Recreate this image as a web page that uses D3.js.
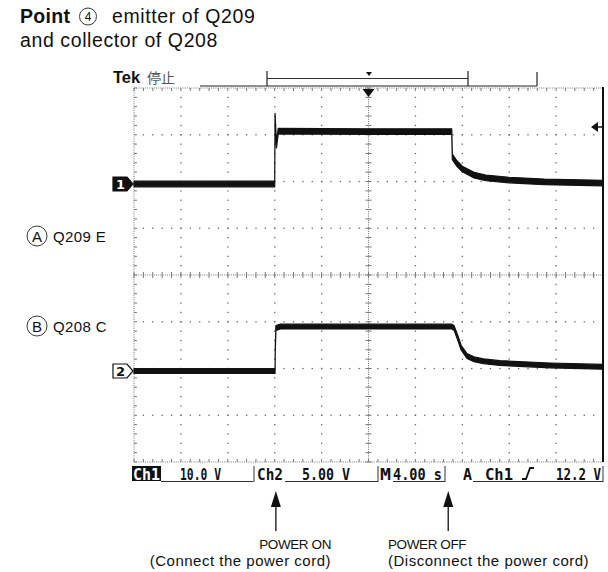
<!DOCTYPE html>
<html>
<head>
<meta charset="utf-8">
<script src="https://cdn.jsdelivr.net/npm/d3@7"></script>
<style>
  body { margin: 0; background: #fff; }
  svg { display: block; }
</style>
</head>
<body>
<svg id="chart"></svg>
<script>
// Scope capture: point 4, emitter of Q209 (ch1) and collector of Q208 (ch2)
// values: time in seconds, level in volts

const ch1Time = [0, 12.0, 12.03, 12.15, 12.3, 20, 27.1, 27.15, 27.5, 28, 29, 30, 32, 35, 40];
const ch1Volt = [0, 0, 14.5, 8.3, 11.3, 11.2, 11.2, 5.8, 4.5, 3.2, 1.9, 1.3, 0.85, 0.45, 0.2];

const ch2Time = [0, 12.03, 12.05, 12.1, 12.5, 27.1, 27.3, 27.6, 27.9, 28.4, 29, 29.8, 31.2, 35.5, 40];
const ch2Volt = [0, 0, 2.3, 4.6, 4.75, 4.75, 4.6, 3.6, 2.5, 1.6, 1.25, 1.05, 0.85, 0.6, 0.45];

const channelNames = ["Q209 E", "Q208 C"];
const channelLetters = ["A", "B"];
const statusLabels = ["Ch1", "10.0 V", "Ch2", "5.00 V", "M", "4.00 s", "A", "Ch1", "12.2 V"];
const eventTimes = [12.1, 26.8];
const eventLabels = [["POWER ON", "(Connect the power cord)"], ["POWER OFF", "(Disconnect the power cord)"]];

const W = 608, H = 572;
const svg = d3.select("#chart").attr("width", W).attr("height", H);

// graticule box
const G = { left: 134, right: 603, top: 88, bottom: 462 };
const nx = 10, ny = 8;
const xDiv = (G.right - G.left) / nx;
const yDiv = (G.bottom - G.top) / ny;

const x = d3.scaleLinear().domain([0, 40]).range([G.left, G.right]); // 4 s/div
const ch1Ground = 184, ch2Ground = 371;
const y1 = d3.scaleLinear().domain([0, 10]).range([ch1Ground, ch1Ground - yDiv]); // 10 V/div
const y2 = d3.scaleLinear().domain([0, 5]).range([ch2Ground, ch2Ground - yDiv]);  // 5 V/div

const sans = "'Liberation Sans', Arial, sans-serif";

// ---- heading
const head = svg.append("g").attr("font-family", sans).attr("font-size", 19.5).attr("fill", "#111");
head.append("text").attr("x", 20).attr("y", 23).attr("font-weight", "bold").attr("letter-spacing", 0.3).text("Point");
head.append("circle").attr("cx", 88).attr("cy", 16.5).attr("r", 8.5).attr("fill", "none").attr("stroke", "#222").attr("stroke-width", 0.9);
head.append("text").attr("x", 88).attr("y", 21).attr("text-anchor", "middle").attr("font-size", 12).text("4");
head.append("text").attr("x", 112).attr("y", 23).attr("letter-spacing", 0.6).text("emitter of Q209");
head.append("text").attr("x", 20).attr("y", 47).attr("letter-spacing", 0.6).text("and collector of Q208");

// ---- scope header: Tek + record bar
const header = svg.append("g");
header.append("text").attr("x", 113).attr("y", 83).attr("font-family", sans).attr("font-weight", "bold")
  .attr("font-size", 16.5).attr("fill", "#111").text("Tek");
header.append("text").attr("x", 147).attr("y", 83).attr("font-family", "'Noto Sans CJK JP', sans-serif")
  .attr("font-size", 14).attr("fill", "#555").text("停止");
header.append("line").attr("x1", 200).attr("x2", 537).attr("y1", 86).attr("y2", 86).attr("stroke", "#222").attr("stroke-width", 1.2);
header.append("line").attr("x1", 267).attr("x2", 468).attr("y1", 78.5).attr("y2", 78.5).attr("stroke", "#333").attr("stroke-width", 1);
[[267, 71], [468, 71], [537, 72]].forEach(([px, py]) => {
  header.append("line").attr("x1", px).attr("x2", px).attr("y1", py).attr("y2", 86).attr("stroke", "#222").attr("stroke-width", 1.2);
});
header.append("path").attr("d", "M366,72 L372,72 L369,76 Z").attr("fill", "#111");

// ---- graticule
const grid = svg.append("g").attr("fill", "#666");
// minor dots on major gridlines
d3.range(1, nx).filter(i => i !== nx / 2).forEach(i => {
  const gx = G.left + i * xDiv;
  grid.selectAll(null).data(d3.range(1, ny * 5)).join("rect")
    .attr("x", gx - 0.6).attr("y", k => G.top + k * yDiv / 5 - 0.6)
    .attr("width", 1.3).attr("height", 1.3);
});
d3.range(1, ny).filter(j => j !== ny / 2).forEach(j => {
  const gy = G.top + j * yDiv;
  grid.selectAll(null).data(d3.range(1, nx * 5)).join("rect")
    .attr("x", k => G.left + k * xDiv / 5 - 0.6).attr("y", gy - 0.6)
    .attr("width", 1.3).attr("height", 1.3);
});

const cx = G.left + xDiv * nx / 2, cy = G.top + yDiv * ny / 2;
const ruled = svg.append("g").attr("stroke", "#777").attr("stroke-width", 1);
// center lines and edges: fine dotted line with 1/5 div ticks
function hRule(yy, t0, t1) {
  ruled.append("line").attr("x1", G.left).attr("x2", G.right).attr("y1", yy).attr("y2", yy)
    .attr("stroke-dasharray", "1,1.2");
  ruled.selectAll(null).data(d3.range(0, nx * 5 + 1)).join("line")
    .attr("x1", k => G.left + k * xDiv / 5).attr("x2", k => G.left + k * xDiv / 5)
    .attr("y1", yy + t0).attr("y2", yy + t1);
}
function vRule(xx, t0, t1) {
  ruled.append("line").attr("y1", G.top).attr("y2", G.bottom).attr("x1", xx).attr("x2", xx)
    .attr("stroke-dasharray", "1,1.2");
  ruled.selectAll(null).data(d3.range(0, ny * 5 + 1)).join("line")
    .attr("y1", k => G.top + k * yDiv / 5).attr("y2", k => G.top + k * yDiv / 5)
    .attr("x1", xx + t0).attr("x2", xx + t1);
}
hRule(cy, -3, 3);
vRule(cx, -3, 3);
hRule(G.top, 0, 3);
hRule(G.bottom, -3, 0);
vRule(G.left, 0, 3);
svg.append("line").attr("x1", G.right).attr("x2", G.right).attr("y1", G.top - 1).attr("y2", G.bottom)
  .attr("stroke", "#111").attr("stroke-width", 2);

// ---- traces (thick band like the noisy phosphor trace)
function band(yScale, half) {
  return d3.area()
    .x(d => x(d[0]))
    .y0(d => yScale(d[1]) + half)
    .y1(d => yScale(d[1]) - half);
}
const ch1 = d3.zip(ch1Time, ch1Volt);
const ch2 = d3.zip(ch2Time, ch2Volt);
svg.append("path").datum(ch1).attr("d", band(y1, 2.8))
  .attr("fill", "#111").attr("stroke", "#111").attr("stroke-width", 1.2).attr("stroke-linejoin", "round");
svg.append("path").datum(ch2).attr("d", band(y2, 2.4))
  .attr("fill", "#111").attr("stroke", "#111").attr("stroke-width", 1.2).attr("stroke-linejoin", "round");

// trigger position and level markers
svg.append("path").attr("d", `M${cx - 6},${G.top + 1} L${cx + 6},${G.top + 1} L${cx},${G.top + 9} Z`).attr("fill", "#111");
const trigY = y1(12.2);
svg.append("path").attr("d", `M${G.right - 12},${trigY} L${G.right - 5},${trigY - 5} L${G.right - 5},${trigY + 5} Z`).attr("fill", "#111");
svg.append("line").attr("x1", G.right - 6).attr("x2", G.right).attr("y1", trigY).attr("y2", trigY)
  .attr("stroke", "#111").attr("stroke-width", 1.5);

// channel ground markers
function groundMark(yy, label, filled) {
  const m = svg.append("g");
  m.append("path").attr("d", `M113,${yy - 7} L127,${yy - 7} L133,${yy} L127,${yy + 7} L113,${yy + 7} Z`)
    .attr("fill", filled ? "#111" : "#fff").attr("stroke", "#111").attr("stroke-width", 1.2);
  m.append("text").attr("x", 120.5).attr("y", yy + 5).attr("text-anchor", "middle")
    .attr("font-family", "'DejaVu Sans', sans-serif").attr("font-weight", "bold").attr("font-size", 13)
    .attr("fill", filled ? "#fff" : "#111").text(label);
}
groundMark(ch1Ground, "1", true);
groundMark(ch2Ground, "2", false);

// channel labels on the left
[236, 326].forEach((ly, i) => {
  const l = svg.append("g").attr("font-family", sans).attr("fill", "#111");
  l.append("circle").attr("cx", 37).attr("cy", ly).attr("r", 10).attr("fill", "none").attr("stroke", "#222").attr("stroke-width", 0.9);
  l.append("text").attr("x", 37).attr("y", ly + 5.5).attr("text-anchor", "middle").attr("font-size", 15).text(channelLetters[i]);
  l.append("text").attr("x", 53).attr("y", ly + 5.5).attr("font-size", 15).attr("letter-spacing", 0.4).text(channelNames[i]);
});

// ---- status bar
const status = svg.append("g").attr("font-family", "'DejaVu Sans Mono', monospace").attr("font-weight", "bold")
  .attr("font-size", 15.5).attr("fill", "#111");
status.append("rect").attr("x", 132).attr("y", 466).attr("width", 29).attr("height", 15).attr("fill", "#111");
// [label index, left, width, colour] - squeeze each label horizontally to the box
const statusPos = [[0, 133, 27, "#fff"], [1, 180, 41], [2, 257, 26], [3, 302, 48], [4, 380, 11],
                   [5, 393, 49], [6, 463, 9], [7, 485, 28], [8, 556, 45]];
statusPos.forEach(([i, sx, sw, col]) => {
  const t = status.append("text").attr("fill", col || "#111").text(statusLabels[i]);
  const natural = t.node().getComputedTextLength();
  t.attr("transform", `translate(${sx},479.5) scale(${sw / natural},1)`);
});
const sLines = status.append("g").attr("stroke", "#333").attr("stroke-width", 1).attr("fill", "none");
[[161, 253], [285, 378], [393, 445], [473, 603]].forEach(([a, b]) => {
  sLines.append("line").attr("x1", a).attr("x2", b).attr("y1", 481.5).attr("y2", 481.5);
});
[254, 378, 445, 603].forEach(bx => {
  sLines.append("line").attr("x1", bx).attr("x2", bx).attr("y1", 466).attr("y2", 482);
});
// rising edge slope symbol
status.append("path").attr("d", "M522,479 L526,479 L530,468 L534,468")
  .attr("fill", "none").attr("stroke", "#111").attr("stroke-width", 1.8);

// ---- event arrows and captions
eventTimes.forEach((t, i) => {
  const ax = x(t);
  const a = svg.append("g");
  a.append("line").attr("x1", ax).attr("x2", ax).attr("y1", 505).attr("y2", 531).attr("stroke", "#222").attr("stroke-width", 1.4);
  a.append("path").attr("d", `M${ax},491 L${ax + 5},507 L${ax - 5},507 Z`).attr("fill", "#111");
  const anchor = i === 0 ? "end" : "start";
  const tx = i === 0 ? 331 : 388;
  a.append("text").attr("x", tx).attr("y", 549).attr("text-anchor", anchor).attr("font-family", sans)
    .attr("font-size", 13.5).attr("letter-spacing", -0.4).attr("fill", "#111").text(eventLabels[i][0]);
  a.append("text").attr("x", tx).attr("y", 566).attr("text-anchor", anchor).attr("font-family", sans)
    .attr("font-size", 15).attr("letter-spacing", 0.5).attr("fill", "#111").text(eventLabels[i][1]);
});
</script>
</body>
</html>
